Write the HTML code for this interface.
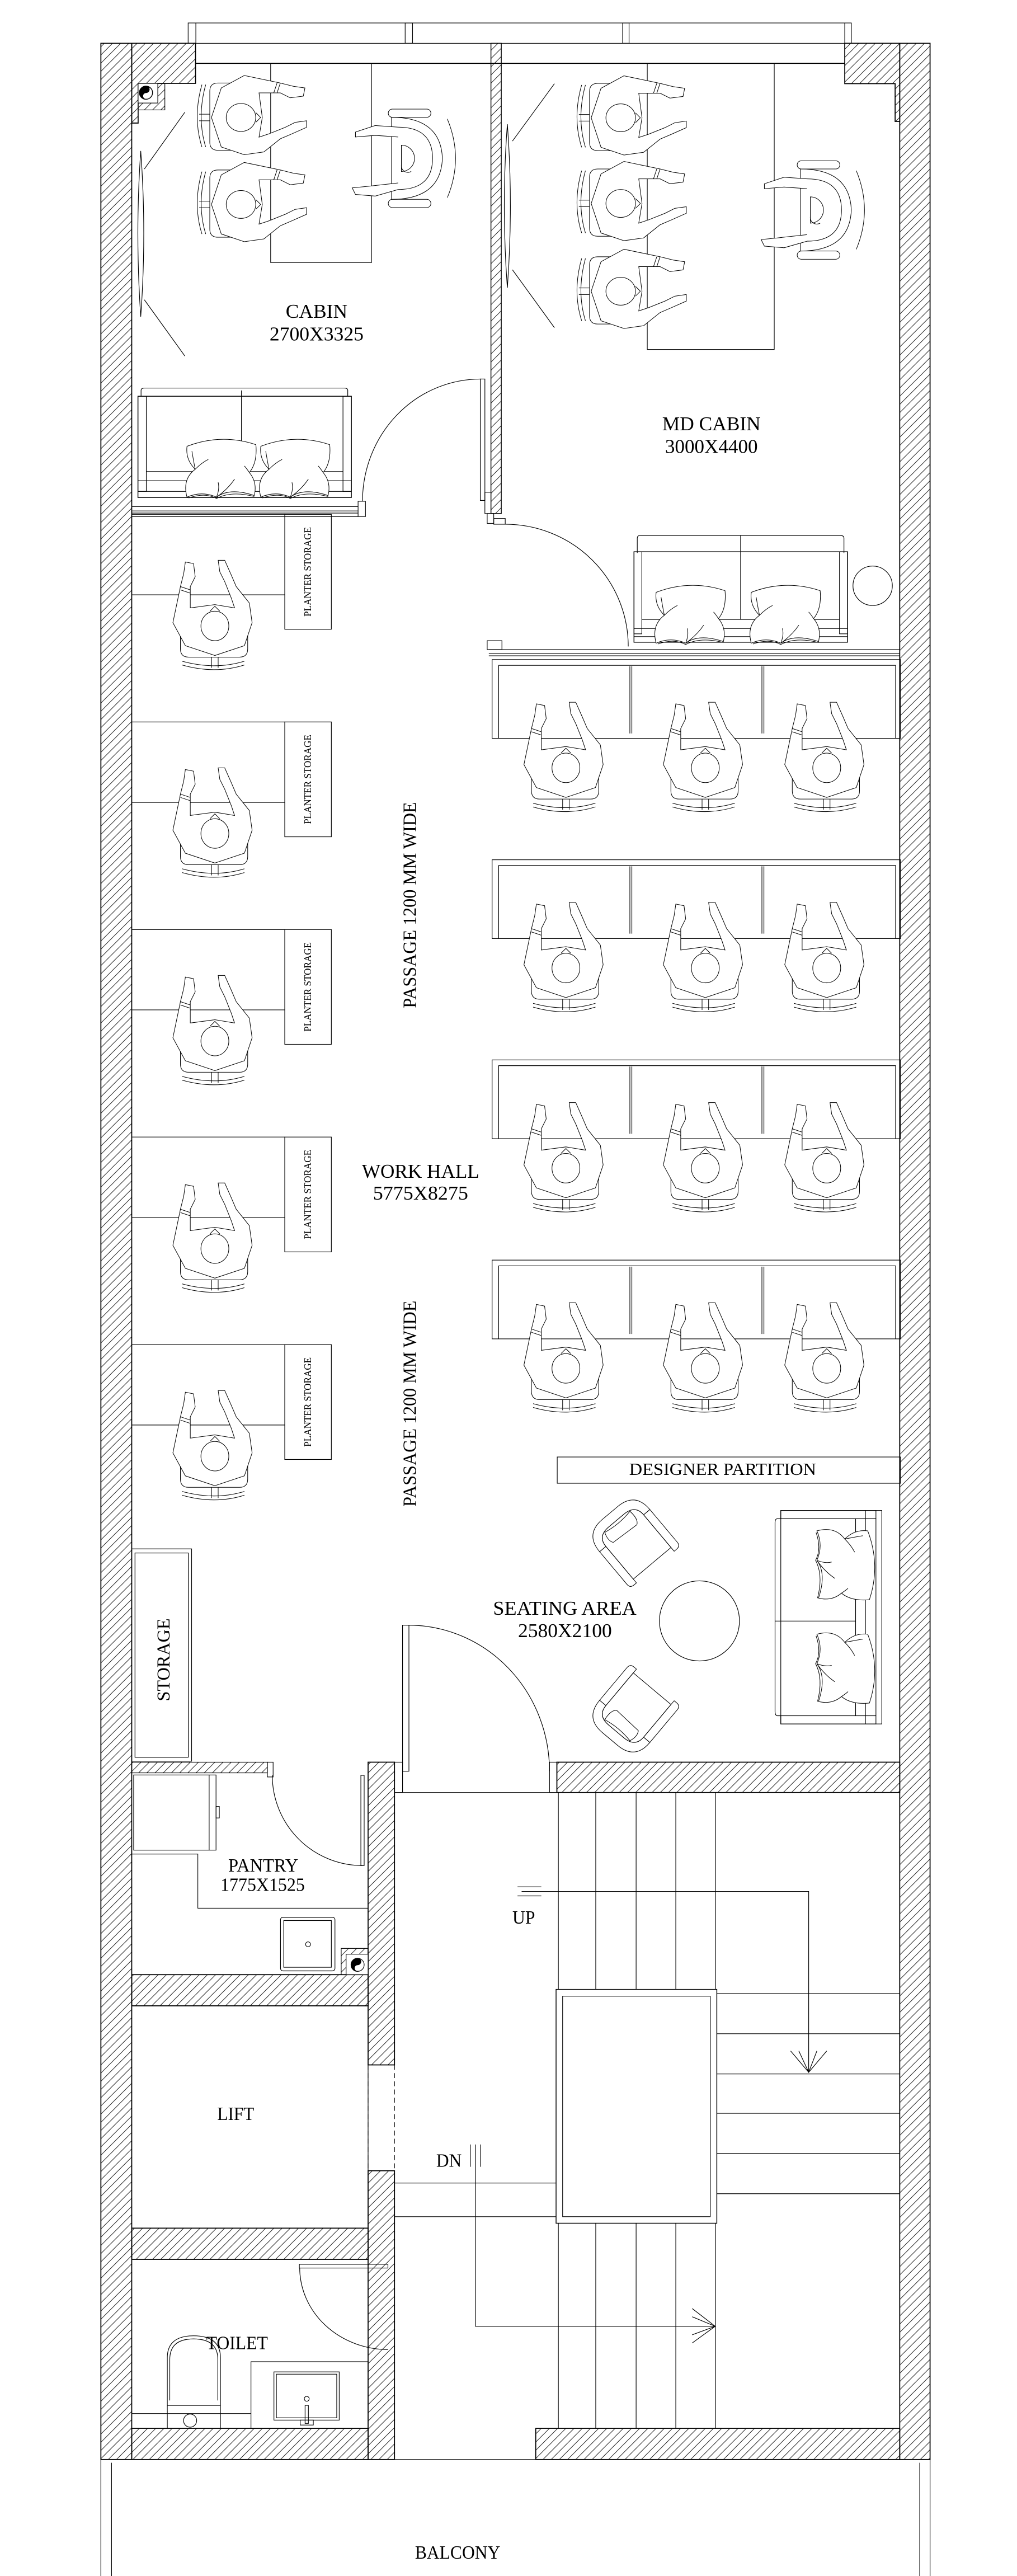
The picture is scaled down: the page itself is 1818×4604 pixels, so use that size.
<!DOCTYPE html>
<html><head><meta charset="utf-8"><style>
html,body{margin:0;padding:0;background:#fff;}
svg{display:block;}
text{font-family:"Liberation Serif",serif;fill:#000;stroke:none;}
</style></head><body>
<svg width="1818" height="4604" viewBox="0 0 620 1570" preserveAspectRatio="none" xmlns="http://www.w3.org/2000/svg">
<defs>
<pattern id="h" patternUnits="userSpaceOnUse" width="5" height="5">
<path d="M-1,6 L6,-1 M-1,1 L1,-1 M4,6 L6,4" stroke="#000" stroke-width="0.3"/>
</pattern>
<g id="p" fill="#fff" stroke="#000" stroke-width="0.35">
<path d="M-21,2 V14 Q-21,19 -16,19 H15 Q20,19 20,14 V2"/>
<path d="M-20,21.5 Q0,27 18,21.5 M-20,23.8 Q0,29.5 18,23.8 M-2,19 V25.5 M2,19 V25.5" fill="none"/>
<path d="M-25.6,-2 L-18,12 L0,18 L18,12 L22.7,-2 L21,-14 L13,-24 L10,-31 L6,-40 L2,-40 L3,-33 L6,-27 L10,-17 L12,-11 L0,-13 L-15,-11 L-15,-24 L-12,-30 L-13,-38 L-18,-39 L-19,-32 L-21,-24 Z"/>
<path d="M-21,-24 L-15,-22 M-21,-22 L-15,-20" fill="none"/>
<ellipse cx="0" cy="0" rx="8.5" ry="9"/>
<path d="M-3,-9 L0,-12 L3,-9" fill="none"/>
</g>
<g id="b" fill="#fff" stroke="#000" stroke-width="0.35">
<rect x="-30" y="-10" width="5" height="26" rx="2.5"/>
<rect x="25" y="-10" width="5" height="26" rx="2.5"/>
<path d="M-24,26 Q0,36 24,26" fill="none"/>
<path d="M-25,-8 Q-25,22 0,23 Q25,22 25,-8 Z"/>
<path d="M-19,-4 Q-19,17 0,17 Q19,17 19,-4" fill="none"/>
<path d="M-19,-4 L-23,-18 L-22,-30 L-18,-32 L-17,-22 L-15,-4" />
<path d="M19,-4 L20,-18 L16,-30 L13,-30 L14,-18 L13,-4" />
<path d="M-8,-2 A8,8 0 0 0 8,-2 Z"/>
<path d="M-4,-2 A4,4 0 0 0 -8,4" fill="none"/>
</g>
<g id="pw" fill="#fff" stroke="#000" stroke-width="0.35">
<path d="M-21,-12 Q0,-20 21,-13 Q22,-2 17,4 Q22,10 20,18 Q5,13 -3,19 Q-12,15 -21,19 Q-24,8 -16,2 Q-22,-4 -21,-12 Z"/>
<path d="M-18,-9 Q-17,-3 -16,2 M-3,19 Q-1,14 -2,10 M-3,19 Q4,14 8,8 M17,4 Q15,1 14,0 M-16,2 Q-12,-2 -8,-4" fill="none"/>
<path d="M-20,19.5 Q-10,16 -3,19.8 Q6,15 20,18.6" fill="none"/>
</g>
<g id="ac" fill="#fff" stroke="#000" stroke-width="0.35">
<path d="M-8,-20 L18,-20 Q21,-20 21,-17 L21,-15 L-8,-15 Z"/>
<path d="M-8,20 L18,20 Q21,20 21,17 L21,15 L-8,15 Z"/>
<path d="M-8,-20 Q-22,-20 -22,-6 L-22,6 Q-22,20 -8,20 L-8,15 Q-16,15 -16,6 L-16,-6 Q-16,-15 -8,-15 Z"/>
<path d="M-16,-6 L-16,6 Q-16,15 -8,15 L18,15 L18,-15 L-8,-15 Q-16,-15 -16,-6" fill="none"/>
<path d="M-15,-10 Q-8,-11 -6,-8 L-7,10 Q-10,12 -15,10 Q-13,0 -15,-10 Z"/>
</g>
</defs>

<g fill="none" stroke="#000" stroke-width="0.4">

<!-- window top -->
<rect x="114.7" y="14" width="404.3" height="12.4"/>
<line x1="119.4" y1="14" x2="119.4" y2="26.4"/>
<rect x="247" y="14" width="4.5" height="12.4"/>
<rect x="379.6" y="14" width="3.9" height="12.4"/>
<line x1="515" y1="14" x2="515" y2="26.4"/>
<line x1="119.2" y1="38.6" x2="515" y2="38.6" stroke-width="0.6"/>

<!-- outer walls -->
<rect x="61.5" y="26.4" width="18.8" height="1472.6" fill="url(#h)" stroke-width="0.6"/>
<rect x="548.5" y="26.4" width="18.5" height="1472.6" fill="url(#h)" stroke-width="0.6"/>
<polygon points="80.3,26.4 119.2,26.4 119.2,50.8 84.2,50.8 84.2,75 80.3,75" fill="url(#h)" stroke-width="0.6"/>
<rect x="84.2" y="50.8" width="16.3" height="16.2" fill="url(#h)"/>
<rect x="84.2" y="50.8" width="12" height="12" fill="#fff"/>
<circle cx="89" cy="56.5" r="4" fill="#fff" stroke-width="0.5"/>
<path d="M89,52.5 A4,4 0 0 0 89,60.5 A2,2 0 0 1 89,56.5 A2,2 0 0 0 89,52.5 Z" fill="#000"/>
<polygon points="515,26.4 548.5,26.4 548.5,74 545.7,74 545.7,51 515,51" fill="url(#h)" stroke-width="0.6"/>

<!-- cabin partition wall -->
<rect x="299.3" y="26.4" width="6.3" height="286.6" fill="url(#h)" stroke-width="0.5"/>

<!-- cabin table + mirror -->
<rect x="165" y="38.6" width="61.5" height="121.4"/>
<rect x="394.6" y="38.6" width="77.4" height="174.4"/>
<path d="M85.8,92 Q89.5,142 85.8,193 Q82.3,142 85.8,92 Z"/>
<line x1="88" y1="103" x2="112.7" y2="68.4"/><line x1="88" y1="182.7" x2="112.7" y2="217"/>
<path d="M309.3,75.7 Q313,125 309.3,175.4 Q305.6,125 309.3,75.7 Z"/>
<line x1="312.4" y1="86" x2="338" y2="51"/><line x1="312.4" y1="164.4" x2="338" y2="199.7"/>

<!-- cabin people -->
<use href="#p" transform="translate(146.9,71.6) rotate(90)"/>
<use href="#p" transform="translate(146.9,124.6) rotate(90)"/>
<use href="#b" transform="translate(246.7,96.5) rotate(-90)"/>
<use href="#p" transform="translate(378.4,71.8) rotate(90)"/>
<use href="#p" transform="translate(378.4,124) rotate(90)"/>
<use href="#p" transform="translate(378.4,177.5) rotate(90)"/>
<use href="#b" transform="translate(496,128) rotate(-90)"/>

<!-- cabin sofa -->
<path d="M86,241.5 L86,238 Q86,236.5 88,236.5 L210,236.5 Q212,236.5 212,238 L212,241.5"/>
<rect x="84.1" y="241.5" width="130.1" height="61.7" stroke-width="0.5"/>
<rect x="84.1" y="241.5" width="5.1" height="58"/>
<rect x="209.1" y="241.5" width="5.1" height="58"/>
<line x1="89.2" y1="287.4" x2="209.1" y2="287.4"/>
<line x1="84.1" y1="293" x2="214.2" y2="293"/>
<line x1="84.1" y1="299.5" x2="214.2" y2="299.5"/>
<line x1="147.2" y1="238" x2="147.2" y2="287.4"/>
<use href="#pw" transform="translate(135,284)"/>
<use href="#pw" transform="translate(180,284)"/>

<!-- cabin bottom partition + door -->
<line x1="80.3" y1="308.7" x2="218.3" y2="308.7"/>
<line x1="80.3" y1="311.4" x2="218.3" y2="311.4"/>
<line x1="80.3" y1="312.7" x2="218.3" y2="312.7"/>
<line x1="80.3" y1="314.8" x2="218.3" y2="314.8"/>
<rect x="218.3" y="305.5" width="4.5" height="9.3"/>
<rect x="292.8" y="231" width="2.8" height="74"/>
<rect x="295.6" y="300" width="3.7" height="13"/>
<path d="M221,305.5 A72,74.5 0 0 1 293,231"/>

<!-- MD door -->
<rect x="297" y="313" width="4" height="6"/>
<rect x="301" y="316" width="7" height="3.5"/>
<path d="M308,319.5 A75,74.5 0 0 1 383,394"/>

<!-- MD sofa -->
<path d="M388.5,337 L388.5,328 Q388.5,326.3 390.5,326.3 L512,326.3 Q514.5,326.3 514.5,328 L514.5,337"/>
<rect x="386.5" y="336.3" width="130.2" height="55.1" stroke-width="0.5"/>
<rect x="386.5" y="336.3" width="4.8" height="50"/>
<rect x="511.8" y="336.3" width="4.9" height="50"/>
<line x1="391.3" y1="377.5" x2="511.8" y2="377.5"/>
<line x1="386.5" y1="383" x2="516.7" y2="383"/>
<line x1="386.5" y1="388" x2="516.7" y2="388"/>
<line x1="451.5" y1="326.3" x2="451.5" y2="377.5"/>
<use href="#pw" transform="translate(421,373)"/>
<use href="#pw" transform="translate(479,373)"/>
<circle cx="532" cy="357" r="12"/>

<!-- MD bottom partition -->
<line x1="298" y1="395.9" x2="548.5" y2="395.9"/>
<line x1="298" y1="398.4" x2="548.5" y2="398.4"/>
<line x1="298" y1="399.7" x2="548.5" y2="399.7"/>
<rect x="297" y="390.5" width="9" height="5.4"/>

<!-- left workstations -->
<g>
<line x1="80.3" y1="313.5" x2="173.6" y2="313.5"/><line x1="80.3" y1="362.5" x2="173.6" y2="362.5"/><rect x="173.6" y="313.5" width="28.4" height="70"/>
<line x1="80.3" y1="440" x2="173.6" y2="440"/><line x1="80.3" y1="489" x2="173.6" y2="489"/><rect x="173.6" y="440" width="28.4" height="70"/>
<line x1="80.3" y1="566.5" x2="173.6" y2="566.5"/><line x1="80.3" y1="615.5" x2="173.6" y2="615.5"/><rect x="173.6" y="566.5" width="28.4" height="70"/>
<line x1="80.3" y1="693" x2="173.6" y2="693"/><line x1="80.3" y1="742" x2="173.6" y2="742"/><rect x="173.6" y="693" width="28.4" height="70"/>
<line x1="80.3" y1="819.5" x2="173.6" y2="819.5"/><line x1="80.3" y1="868.5" x2="173.6" y2="868.5"/><rect x="173.6" y="819.5" width="28.4" height="70"/>
</g>
<use href="#p" transform="translate(131,381.5)"/>
<use href="#p" transform="translate(131,508)"/>
<use href="#p" transform="translate(131,634.5)"/>
<use href="#p" transform="translate(131,761)"/>
<use href="#p" transform="translate(131,887.5)"/>

<!-- right workstations -->
<g>
<rect x="300" y="402" width="249" height="48"/><path d="M304,450 V405.5 H546 V450 M384,406 V447 M385.2,406 V447 M464.5,406 V447 M465.7,406 V447"/>
<rect x="300" y="524" width="249" height="48"/><path d="M304,572 V527.5 H546 V572 M384,528 V569 M385.2,528 V569 M464.5,528 V569 M465.7,528 V569"/>
<rect x="300" y="646" width="249" height="48"/><path d="M304,694 V649.5 H546 V694 M384,650 V691 M385.2,650 V691 M464.5,650 V691 M465.7,650 V691"/>
<rect x="300" y="768" width="249" height="48"/><path d="M304,816 V771.5 H546 V816 M384,772 V813 M385.2,772 V813 M464.5,772 V813 M465.7,772 V813"/>
</g>
<use href="#p" transform="translate(345,468)"/><use href="#p" transform="translate(430,468)"/><use href="#p" transform="translate(504,468)"/>
<use href="#p" transform="translate(345,590)"/><use href="#p" transform="translate(430,590)"/><use href="#p" transform="translate(504,590)"/>
<use href="#p" transform="translate(345,712)"/><use href="#p" transform="translate(430,712)"/><use href="#p" transform="translate(504,712)"/>
<use href="#p" transform="translate(345,834)"/><use href="#p" transform="translate(430,834)"/><use href="#p" transform="translate(504,834)"/>

<!-- seating area -->
<rect x="339.7" y="888" width="209.3" height="16"/>
<path d="M476,925.6 L474,925.6 Q472.5,925.6 472.5,928 L472.5,1043 Q472.5,1045.7 474,1045.7 L476,1045.7"/>
<rect x="476" y="920.6" width="61.6" height="130.1"/>
<rect x="476" y="920.6" width="58" height="5"/>
<rect x="476" y="1045.7" width="58" height="5"/>
<line x1="521.6" y1="925.6" x2="521.6" y2="1045.7"/>
<line x1="527.6" y1="920.6" x2="527.6" y2="1050.7"/>
<line x1="534" y1="925.6" x2="534" y2="1045.7"/>
<line x1="472.5" y1="988" x2="521.6" y2="988"/>
<use href="#pw" transform="translate(517,954) rotate(90)"/>
<use href="#pw" transform="translate(517,1017) rotate(90)"/>
<ellipse cx="426.4" cy="987.9" rx="24.4" ry="24.4"/>
<use href="#ac" transform="translate(386,939) rotate(50)"/>
<use href="#ac" transform="translate(386,1043) rotate(-50)"/>

<!-- storage -->
<rect x="80.3" y="944" width="36.5" height="129.4"/>
<rect x="82.3" y="946.5" width="32.5" height="124.5"/>

<!-- lower walls -->
<rect x="80.3" y="1074" width="82.7" height="6.5" fill="url(#h)"/>
<rect x="163" y="1074" width="3.5" height="9"/>
<rect x="224.4" y="1074" width="16.1" height="184.5" fill="url(#h)" stroke-width="0.6"/>
<rect x="224.4" y="1323" width="16.1" height="176" fill="url(#h)" stroke-width="0.6"/>
<rect x="80.3" y="1203.5" width="144.1" height="19" fill="url(#h)" stroke-width="0.6"/>
<rect x="80.3" y="1358" width="144.1" height="19" fill="url(#h)" stroke-width="0.6"/>
<rect x="80.3" y="1480" width="144.1" height="19" fill="url(#h)" stroke-width="0.6"/>
<rect x="339.5" y="1074" width="209" height="18.5" fill="url(#h)" stroke-width="0.6"/>
<rect x="326.6" y="1480" width="221.9" height="19" fill="url(#h)" stroke-width="0.6"/>
<line x1="224.4" y1="1258.5" x2="224.4" y2="1323" stroke-dasharray="3,2"/>
<line x1="240.5" y1="1258.5" x2="240.5" y2="1323" stroke-dasharray="3,2"/>
<line x1="240.5" y1="1092.5" x2="339.5" y2="1092.5"/>

<!-- stair hall door -->
<rect x="245.4" y="990.5" width="3.9" height="89"/>
<rect x="240.5" y="1074" width="4.9" height="18.5"/>
<rect x="335" y="1074" width="4.5" height="18.5"/>
<path d="M249.3,990.5 A86,89 0 0 1 335,1079.5"/>

<!-- pantry -->
<rect x="220" y="1082" width="2" height="55"/>
<path d="M166,1082 A55,55 0 0 0 221,1137"/>
<rect x="81.5" y="1081.8" width="50.2" height="45.8"/>
<line x1="127.5" y1="1081.8" x2="127.5" y2="1127.6"/>
<rect x="131.7" y="1101" width="2" height="7"/>
<path d="M80.3,1130 H120.6 V1163 H224.4"/>
<rect x="171" y="1168.5" width="33.2" height="32.7" rx="1.5"/>
<rect x="173" y="1170.5" width="29" height="28.5"/>
<circle cx="187.8" cy="1185" r="1.5"/>
<rect x="208" y="1187.5" width="16.4" height="16" fill="url(#h)"/>
<rect x="211" y="1191" width="13.4" height="12.5" fill="#fff"/>
<circle cx="218" cy="1197.5" r="4" fill="#fff"/>
<path d="M218,1193.5 A4,4 0 0 0 218,1201.5 A2,2 0 0 1 218,1197.5 A2,2 0 0 0 218,1193.5 Z" fill="#000"/>

<!-- lift -->
<rect x="80.3" y="1222.5" width="144.1" height="135.5"/>

<!-- toilet -->
<rect x="182.5" y="1380" width="54" height="2.3"/>
<path d="M182.7,1382.3 A54,50 0 0 0 236.5,1432"/>
<path d="M102,1480 V1437 Q102,1423.6 118,1423.6 Q134.4,1423.6 134.4,1437 V1480"/>
<path d="M103.5,1463 V1438 Q103.5,1425.5 118,1425.5 Q132.8,1425.5 132.8,1438 V1463"/>
<line x1="102" y1="1466" x2="134.4" y2="1466"/>
<line x1="80.3" y1="1471" x2="153" y2="1471"/>
<circle cx="115.9" cy="1475.3" r="4"/>
<rect x="153" y="1439.4" width="71.4" height="40.6"/>
<rect x="167" y="1445.6" width="39.8" height="29.4"/>
<rect x="168.5" y="1447" width="36.8" height="26.6"/>
<circle cx="187" cy="1462" r="1.5"/>
<rect x="186" y="1466" width="2" height="11"/>
<rect x="183" y="1475" width="8" height="3"/>

<!-- stairs -->
<g>
<line x1="340.4" y1="1092.5" x2="340.4" y2="1212.5"/>
<line x1="363.2" y1="1092.5" x2="363.2" y2="1212.5"/>
<line x1="387.8" y1="1092.5" x2="387.8" y2="1212.5"/>
<line x1="412" y1="1092.5" x2="412" y2="1212.5"/>
<line x1="436.2" y1="1092.5" x2="436.2" y2="1212.5"/>
<line x1="340.4" y1="1355" x2="340.4" y2="1480"/>
<line x1="363.2" y1="1355" x2="363.2" y2="1480"/>
<line x1="387.8" y1="1355" x2="387.8" y2="1480"/>
<line x1="412" y1="1355" x2="412" y2="1480"/>
<line x1="436.2" y1="1355" x2="436.2" y2="1480"/>
<rect x="339" y="1212.5" width="98" height="142.5" stroke-width="0.5"/>
<rect x="343" y="1216.6" width="90" height="134.4"/>
<line x1="437" y1="1215" x2="548.5" y2="1215"/>
<line x1="437" y1="1239.5" x2="548.5" y2="1239.5"/>
<line x1="437" y1="1264" x2="548.5" y2="1264"/>
<line x1="437" y1="1288" x2="548.5" y2="1288"/>
<line x1="437" y1="1312.5" x2="548.5" y2="1312.5"/>
<line x1="437" y1="1337" x2="548.5" y2="1337"/>
<line x1="240.5" y1="1330.5" x2="339" y2="1330.5"/>
<line x1="240.5" y1="1351" x2="339" y2="1351"/>
</g>
<line x1="315.5" y1="1150" x2="330" y2="1150"/>
<line x1="315.5" y1="1155.5" x2="330" y2="1155.5"/>
<path d="M318,1152.8 H493 V1263"/>
<path d="M482,1250 L493,1263 L504,1250 M487,1250 L493,1263 L498,1250"/>
<line x1="286.7" y1="1307" x2="286.7" y2="1320.6"/>
<line x1="293" y1="1307" x2="293" y2="1320.6"/>
<path d="M289.8,1307 V1417.8 H436"/>
<path d="M422,1407 L436,1417.8 L422,1428 M422,1412 L436,1417.8 L422,1423"/>

<!-- balcony -->
<rect x="61.5" y="1499" width="505.5" height="75"/>
<line x1="68" y1="1501" x2="68" y2="1570"/>
<line x1="560.7" y1="1501" x2="560.7" y2="1570"/>
</g>

<!-- text -->
<g font-size="12">
<text x="193" y="193.7" text-anchor="middle" textLength="37.6" lengthAdjust="spacingAndGlyphs">CABIN</text>
<text x="193" y="207.5" text-anchor="middle" textLength="57.3" lengthAdjust="spacingAndGlyphs">2700X3325</text>
<text x="433.7" y="262.3" text-anchor="middle" textLength="60" lengthAdjust="spacingAndGlyphs">MD CABIN</text>
<text x="433.7" y="276" text-anchor="middle" textLength="56.5" lengthAdjust="spacingAndGlyphs">3000X4400</text>
<text x="256.4" y="717.8" text-anchor="middle" textLength="71.6" lengthAdjust="spacingAndGlyphs">WORK HALL</text>
<text x="256.4" y="731.2" text-anchor="middle" textLength="58" lengthAdjust="spacingAndGlyphs">5775X8275</text>
<text transform="translate(253.6,551.6) rotate(-90)" text-anchor="middle" font-size="11.5" textLength="125.6" lengthAdjust="spacingAndGlyphs">PASSAGE 1200 MM WIDE</text>
<text transform="translate(253.6,855.5) rotate(-90)" text-anchor="middle" font-size="11.5" textLength="125.6" lengthAdjust="spacingAndGlyphs">PASSAGE 1200 MM WIDE</text>
<text x="440.6" y="898.9" text-anchor="middle" font-size="10.5" textLength="114" lengthAdjust="spacingAndGlyphs">DESIGNER PARTITION</text>
<text x="344.3" y="984.2" text-anchor="middle" textLength="87.4" lengthAdjust="spacingAndGlyphs">SEATING AREA</text>
<text x="344.4" y="997.8" text-anchor="middle" textLength="57.2" lengthAdjust="spacingAndGlyphs">2580X2100</text>
<text transform="translate(103.3,1011.6) rotate(-90)" text-anchor="middle" font-size="11" textLength="50.5" lengthAdjust="spacingAndGlyphs">STORAGE</text>
<text x="160.5" y="1140.7" text-anchor="middle" font-size="11.5" textLength="42.7" lengthAdjust="spacingAndGlyphs">PANTRY</text>
<text x="160.1" y="1152.4" text-anchor="middle" font-size="11.5" textLength="51.4" lengthAdjust="spacingAndGlyphs">1775X1525</text>
<text x="319.3" y="1172.4" text-anchor="middle" font-size="11.5" textLength="13.8" lengthAdjust="spacingAndGlyphs">UP</text>
<text x="273.7" y="1320.6" text-anchor="middle" font-size="11.5" textLength="15.5" lengthAdjust="spacingAndGlyphs">DN</text>
<text x="143.7" y="1292" text-anchor="middle" font-size="11.5" textLength="22.5" lengthAdjust="spacingAndGlyphs">LIFT</text>
<text x="144.5" y="1431.8" text-anchor="middle" font-size="11.5" textLength="37.6" lengthAdjust="spacingAndGlyphs">TOILET</text>
<text x="279" y="1559.4" text-anchor="middle" font-size="11.5" textLength="52" lengthAdjust="spacingAndGlyphs">BALCONY</text>
</g>
<g font-size="6">
<text transform="translate(189.6,348.5) rotate(-90)" text-anchor="middle" textLength="54.5" lengthAdjust="spacingAndGlyphs">PLANTER STORAGE</text>
<text transform="translate(189.6,475) rotate(-90)" text-anchor="middle" textLength="54.5" lengthAdjust="spacingAndGlyphs">PLANTER STORAGE</text>
<text transform="translate(189.6,601.5) rotate(-90)" text-anchor="middle" textLength="54.5" lengthAdjust="spacingAndGlyphs">PLANTER STORAGE</text>
<text transform="translate(189.6,728) rotate(-90)" text-anchor="middle" textLength="54.5" lengthAdjust="spacingAndGlyphs">PLANTER STORAGE</text>
<text transform="translate(189.6,854.5) rotate(-90)" text-anchor="middle" textLength="54.5" lengthAdjust="spacingAndGlyphs">PLANTER STORAGE</text>
</g>
</svg>
</body></html>
